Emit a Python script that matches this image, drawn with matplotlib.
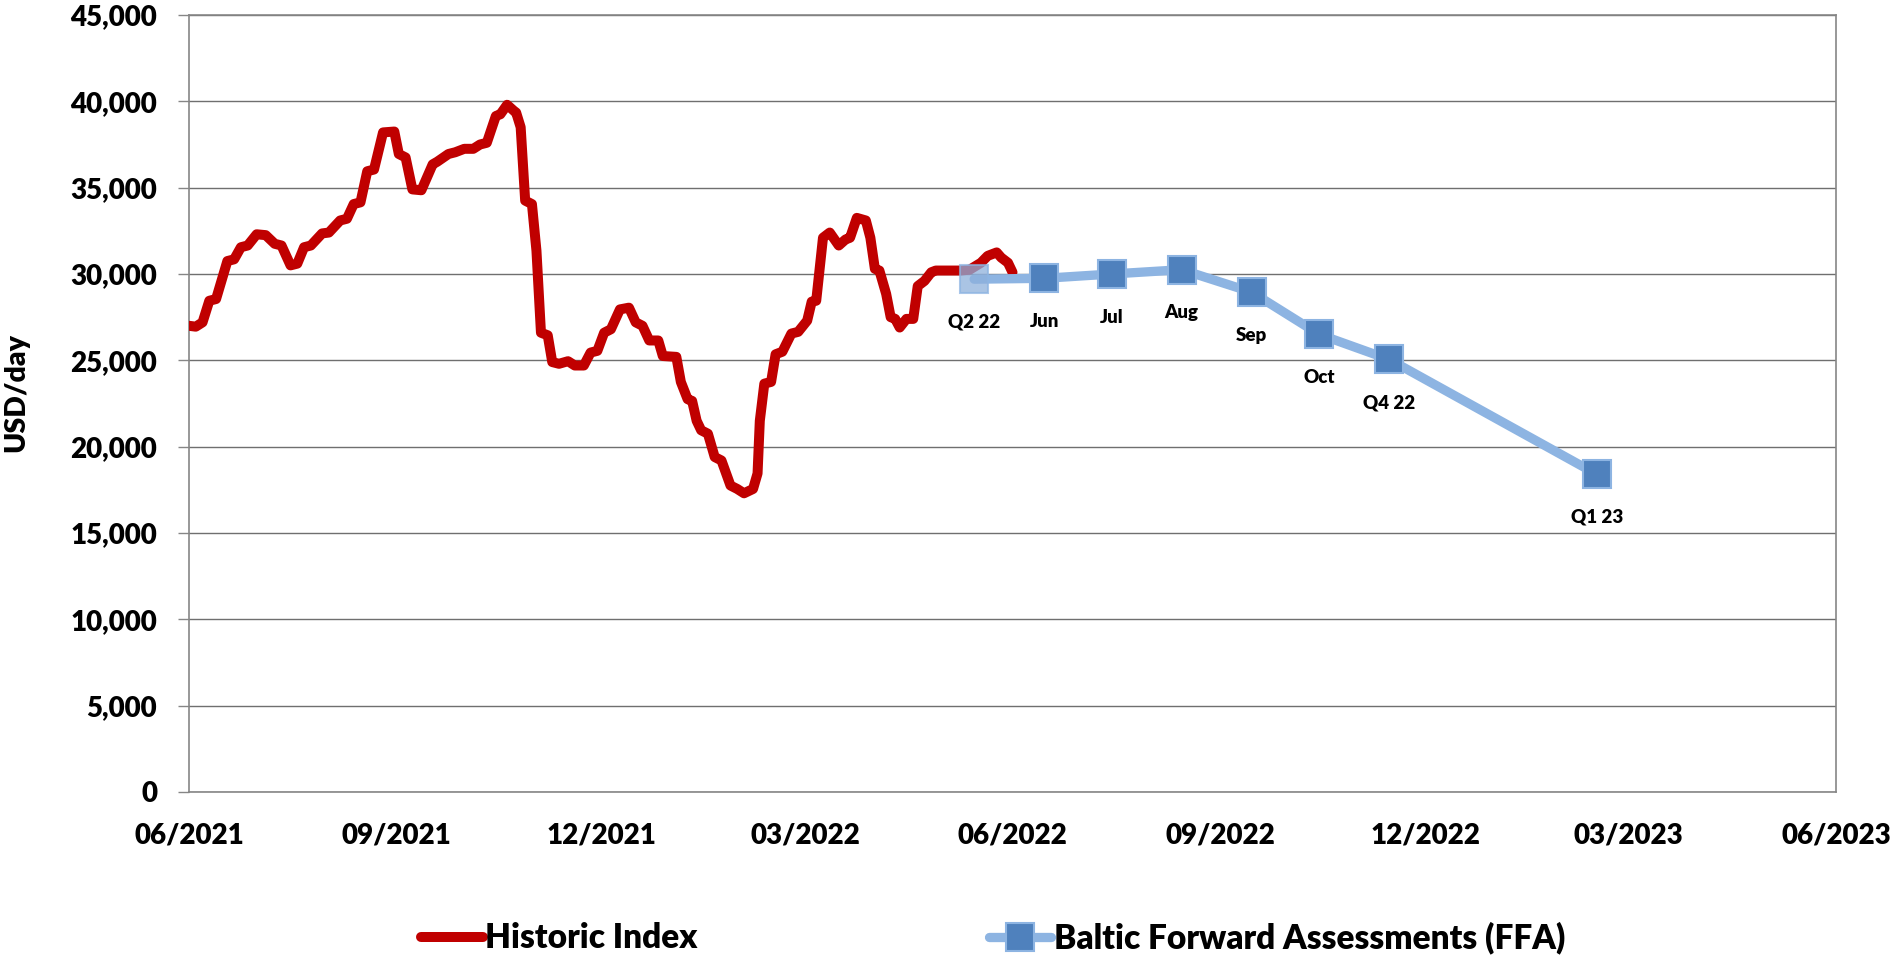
import numpy as np
import pandas as pd
import matplotlib
matplotlib.use("Agg")
import matplotlib.pyplot as plt
import matplotlib.dates as mdates
from matplotlib.ticker import MultipleLocator, StrMethodFormatter

plt.rcParams['font.family'] = ['Lato', 'DejaVu Sans']
WEIGHT = 'heavy'
plt.rcParams['font.weight'] = WEIGHT

# Historic index: days after 2021-06-01 and USD/day
hist_day = [0, 3, 6, 9, 12, 17, 20, 23, 26, 30, 34, 38, 41, 45, 48, 51, 54, 59, 62,
            67, 70, 73, 76, 79, 82, 86, 91, 93, 96, 99, 103, 108, 110, 115, 118, 122,
            126, 129, 132, 136, 138, 141, 144, 145, 147, 149, 152, 154, 156, 159, 161,
            164, 168, 171, 175, 178, 181, 184, 187, 191, 195, 198, 201, 204, 208, 210,
            216, 218, 221, 223, 225, 227, 230, 233, 236, 240, 243, 246, 250, 252, 253,
            255, 258, 260, 263, 267, 270, 274, 276, 278, 281, 284, 288, 291, 293, 296,
            300, 302, 304, 306, 309, 311, 313, 315, 318, 321, 323, 326, 329, 331, 336,
            342, 346, 351, 354, 358, 360, 363, 365]
hist_usd = [27000, 26950, 27200, 28450, 28550, 30750, 30850, 31550, 31650, 32300, 32250,
            31750, 31650, 30500, 30600, 31550, 31650, 32350, 32400, 33100, 33200, 34050,
            34150, 35950, 36050, 38200, 38250, 36950, 36750, 34900, 34850, 36350, 36500,
            36950, 37050, 37250, 37250, 37500, 37600, 39150, 39250, 39800, 39450, 39350,
            38500, 34250, 34050, 31350, 26600, 26450, 24900, 24800, 24950, 24700, 24700,
            25450, 25550, 26600, 26800, 27950, 28050, 27200, 27000, 26150, 26150, 25250,
            25200, 23750, 22750, 22650, 21500, 20950, 20750, 19400, 19200, 17750, 17550,
            17300, 17550, 18450, 21500, 23650, 23750, 25350, 25500, 26550, 26650, 27300,
            28400, 28450, 32100, 32400, 31650, 32000, 32100, 33250, 33100, 32100, 30300,
            30200, 28850, 27500, 27400, 26900, 27400, 27400, 29300, 29600, 30100, 30200,
            30200, 30200, 30250, 30650, 31050, 31250, 30950, 30650, 30100]

# Baltic forward assessments
ffa_labels = ['Q2 22', 'Jun', 'Jul', 'Aug', 'Sep', 'Oct', 'Q4 22', 'Q1 23']
ffa_dates = ['2022-05-15', '2022-06-15', '2022-07-15', '2022-08-15',
             '2022-09-15', '2022-10-15', '2022-11-15', '2023-02-15']
ffa_usd = [29700, 29750, 30000, 30250, 28950, 26500, 25050, 18400]

start = pd.Timestamp('2021-06-01')
hist_x = start + pd.to_timedelta(hist_day, unit='D')
ffa_x = pd.to_datetime(ffa_dates)

W, H = 1892, 959
fig = plt.figure(figsize=(W / 100, H / 100), dpi=100)
ax = fig.add_axes([189 / W, 1 - 792 / H, (1836 - 189) / W, (792 - 15) / H])

ax.plot(hist_x, hist_usd, color='#C00000', lw=7.2, solid_capstyle='round',
        solid_joinstyle='round', zorder=3, label='Historic Index')
ax.plot(ffa_x, ffa_usd, color='#8DB4E2', lw=6.7, marker='s', markersize=20,
        mfc='#4F81BD', mec='#8DB4E2', mew=1.5, markevery=list(range(1, len(ffa_usd))),
        solid_capstyle='round', zorder=4, label='Baltic Forward Assessments (FFA)')
# first point sits over the historic line and is drawn see-through
ax.plot(ffa_x[:1], ffa_usd[:1], ls='none', marker='s', markersize=20,
        mfc='#8EB0DC', mec='#8DB4E2', mew=1.5, alpha=0.75, zorder=5)

for lab, x, y in zip(ffa_labels, ffa_x, ffa_usd):
    ax.annotate(lab, (x, y), xytext=(0, -31), textcoords='offset points',
                ha='center', va='center', fontsize=13.5, fontweight=WEIGHT)

ax.set_xlim(pd.Timestamp('2021-06-01'), pd.Timestamp('2023-06-01'))
ax.set_ylim(0, 45000)
ax.xaxis.set_major_locator(mdates.MonthLocator(bymonth=[3, 6, 9, 12]))
ax.xaxis.set_major_formatter(mdates.DateFormatter('%m/%Y'))
ax.yaxis.set_major_locator(MultipleLocator(5000))
ax.yaxis.set_major_formatter(StrMethodFormatter('{x:,.0f}'))

ax.grid(axis='y', color='#6f6f6f', lw=1.0, zorder=0)
ax.set_axisbelow(True)
for s in ax.spines.values():
    s.set_color('#868686')
    s.set_linewidth(1.2)
ax.tick_params(axis='y', length=8, width=1.0, color='#868686', pad=15,
               labelsize=20)
ax.tick_params(axis='x', length=0, pad=22, labelsize=20)
for t in ax.get_xticklabels() + ax.get_yticklabels():
    t.set_fontweight(WEIGHT)

fig.text(16 / W, 1 - 392 / H, 'USD/day', rotation=90, ha='center', va='center',
         fontsize=20.5, fontweight=WEIGHT)

fig.legend(loc='center left', bbox_to_anchor=(421 / W, 1 - 938 / H), ncol=2,
           frameon=False, handlelength=1.85, handletextpad=0.08,
           columnspacing=8.75, borderpad=0, borderaxespad=0,
           prop={'weight': WEIGHT, 'size': 24})

fig.savefig('out.png', dpi=100)
